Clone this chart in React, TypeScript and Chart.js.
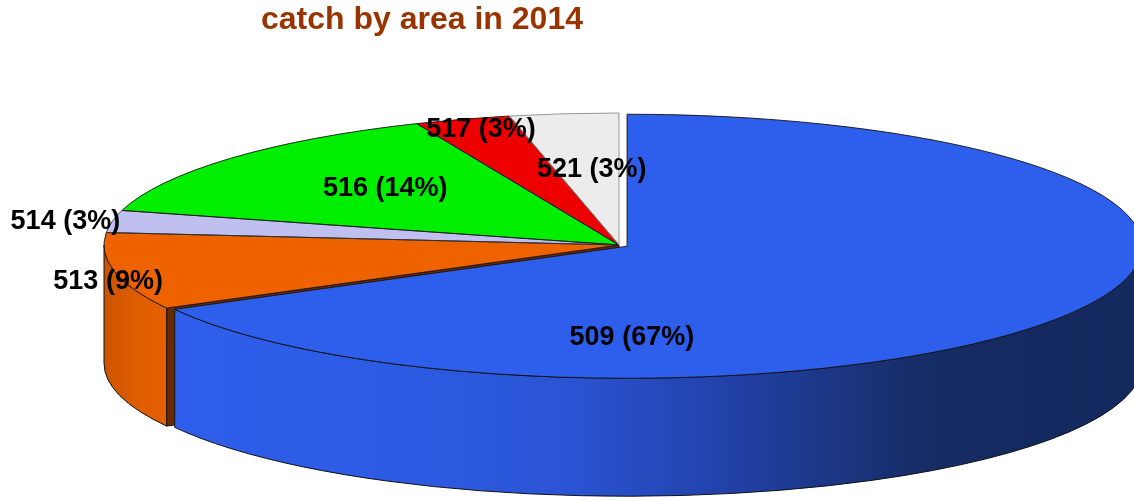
import React, { useEffect, useRef } from "react";
import { Chart, registerables } from "chart.js";

Chart.register(...registerables);

// ---- data ----
const TITLE = "catch by area in 2014";
const AREAS = ["509", "513", "514", "516", "517", "521"];
const SHARES = [66.8, 9.4, 2.7, 14.3, 3.0, 3.4];

// ---- styles ----
const TOP_COLORS = ["#2e5fec", "#ee6200", "#c0c0f0", "#00ee00", "#ee0000", "#ececec"];
const OUTLINE_COLORS = ["#111111", "#1a1a1a", "#333333", "#1a1a1a", "#1a1a1a", "#8c8c8c"];
const FACE_COLORS = ["#152a62", "#6a2900", "#55557a", "#006a00", "#6a0000", "#777777"];
const SIDE_STOPS: Array<Array<[number, string]>> = [
  [[0, "#2f60ee"], [0.3, "#2c5ae2"], [0.45, "#2a54d4"], [0.6, "#2242aa"], [0.78, "#172e6a"], [0.85, "#142a60"], [1, "#14295e"]],
  [[0, "#cc5400"], [0.035, "#e05e00"], [0.08, "#e86000"], [1, "#e86000"]],
  [[0, "#9a9ad0"], [1, "#9a9ad0"]],
  [[0, "#00b000"], [1, "#00b000"]],
  [[0, "#b00000"], [1, "#b00000"]],
  [[0, "#c8c8c8"], [1, "#c8c8c8"]],
];
const EXPLODE = [2.4, 0, 0, 0, 0, 0];
// label anchors, in units of the ellipse radii from the pie centre
const LABEL_POS: Array<[number, number]> = [
  [0.025, 0.686],
  [-0.992, 0.258],
  [-1.075, -0.197],
  [-0.454, -0.447],
  [-0.268, -0.894],
  [-0.053, -0.591],
];
const DEPTH = 118;
const LABEL_SIZE = 27;
const FONT = '"Liberation Sans", Arial, Helvetica, sans-serif';

function pctLabel(i: number): string {
  const tot = SHARES.reduce((a, b) => a + b, 0);
  return `${AREAS[i]} (${Math.round((SHARES[i] / tot) * 100)}%)`;
}

const pie3d = {
  id: "pie3d",
  beforeDatasetDraw() {
    return false;
  },
  afterDatasetsDraw(chart: any) {
    const ctx: CanvasRenderingContext2D = chart.ctx;
    const area = chart.chartArea;
    const arcs = chart.getDatasetMeta(0).data as any[];
    if (!arcs.length) return;
    const n = arcs.length;
    const r = arcs[0].outerRadius;
    const cx = arcs[0].x;
    const cy = arcs[0].y;
    const sx = area.width / 2 / r;
    const sy = area.height / 2 / r;
    const rx = r * sx;
    const ry = r * sy;

    const geo = arcs.map((arc, i) => {
      const half = (arc.startAngle + arc.endAngle) / 2;
      const e = EXPLODE[i] || 0;
      return {
        arc,
        i,
        s: arc.startAngle as number,
        t: arc.endAngle as number,
        ox: cx + Math.cos(half) * e * sx,
        oy: cy + Math.sin(half) * e * sy,
      };
    });

    ctx.save();
    ctx.lineWidth = 1;
    ctx.lineJoin = "round";

    // radial faces facing the viewer, only where a gap exposes them
    for (const g of geo) {
      const faces: number[] = [];
      const prev = (g.i - 1 + n) % n;
      const next = (g.i + 1) % n;
      const gapPrev = (EXPLODE[g.i] || 0) > 0 || (EXPLODE[prev] || 0) > 0;
      const gapNext = (EXPLODE[g.i] || 0) > 0 || (EXPLODE[next] || 0) > 0;
      if (gapPrev && Math.cos(g.s) < -1e-6) faces.push(g.s);
      if (gapNext && Math.cos(g.t) > 1e-6) faces.push(g.t);
      for (const a of faces) {
        const ex = g.ox + rx * Math.cos(a);
        const ey = g.oy + ry * Math.sin(a);
        ctx.beginPath();
        ctx.moveTo(g.ox, g.oy);
        ctx.lineTo(ex, ey);
        ctx.lineTo(ex, ey + DEPTH);
        ctx.lineTo(g.ox, g.oy + DEPTH);
        ctx.closePath();
        ctx.fillStyle = FACE_COLORS[g.i];
        ctx.fill();
        ctx.strokeStyle = "#111";
        ctx.stroke();
      }
    }

    // outer walls (front half)
    for (const g of geo) {
      const wins: Array<[number, number]> = [
        [0, Math.PI],
        [2 * Math.PI, 3 * Math.PI],
      ];
      for (const [w0, w1] of wins) {
        const lo = Math.max(g.s, w0);
        const hi = Math.min(g.t, w1);
        if (hi <= lo + 1e-6) continue;
        const grad = ctx.createLinearGradient(cx - rx, 0, cx + rx, 0);
        for (const [p, c] of SIDE_STOPS[g.i]) grad.addColorStop(p, c);
        ctx.beginPath();
        ctx.ellipse(g.ox, g.oy, rx, ry, 0, lo, hi, false);
        ctx.lineTo(g.ox + rx * Math.cos(hi), g.oy + DEPTH + ry * Math.sin(hi));
        ctx.ellipse(g.ox, g.oy + DEPTH, rx, ry, 0, hi, lo, true);
        ctx.closePath();
        ctx.fillStyle = grad;
        ctx.fill();
        ctx.strokeStyle = "#111";
        ctx.stroke();
      }
    }

    // top faces, drawn by the library's arc elements on a squashed context
    for (const g of geo) {
      ctx.save();
      ctx.translate(g.ox, g.oy);
      ctx.scale(sx, sy);
      ctx.translate(-cx, -cy);
      g.arc.draw(ctx);
      ctx.restore();
    }

    // outlines of the top faces
    for (const g of geo) {
      ctx.beginPath();
      ctx.moveTo(g.ox, g.oy);
      ctx.ellipse(g.ox, g.oy, rx, ry, 0, g.s, g.t, false);
      ctx.closePath();
      ctx.strokeStyle = OUTLINE_COLORS[g.i];
      ctx.lineWidth = 0.9;
      ctx.stroke();
    }

    // labels
    ctx.fillStyle = "#000";
    ctx.font = `bold ${LABEL_SIZE}px ${FONT}`;
    ctx.textAlign = "center";
    ctx.textBaseline = "alphabetic";
    geo.forEach((g) => {
      const [fx, fy] = LABEL_POS[g.i];
      const x = cx + fx * rx;
      const y = cy + fy * ry;
      ctx.fillText(pctLabel(g.i), x, y + LABEL_SIZE * 0.358);
    });

    // title
    ctx.fillStyle = "#993300";
    ctx.font = `bold 32px ${FONT}`;
    ctx.textAlign = "center";
    ctx.fillText(TITLE, 422, 29);
    ctx.restore();
  },
};

export default function App() {
  const ref = useRef<HTMLCanvasElement | null>(null);
  useEffect(() => {
    document.body.style.margin = "0";
    const canvas = ref.current;
    if (!canvas) return;
    const chart = new Chart(canvas, {
      type: "pie",
      data: {
        labels: AREAS,
        datasets: [
          {
            data: SHARES,
            backgroundColor: TOP_COLORS,
            borderWidth: 0,
            clip: false as any,
          } as any,
        ],
      },
      options: {
        responsive: false,
        animation: false,
        events: [],
        devicePixelRatio: 1,
        layout: { padding: { left: 104, right: 0, top: 113, bottom: 124 } },
        plugins: {
          legend: { display: false },
          tooltip: { enabled: false },
          title: { display: false },
        },
      } as any,
      plugins: [pie3d as any],
    });
    return () => chart.destroy();
  }, []);
  return (
    <div style={{ width: 1134, height: 501, background: "#fff" }}>
      <canvas ref={ref} width={1134} height={501} style={{ display: "block" }} />
    </div>
  );
}
